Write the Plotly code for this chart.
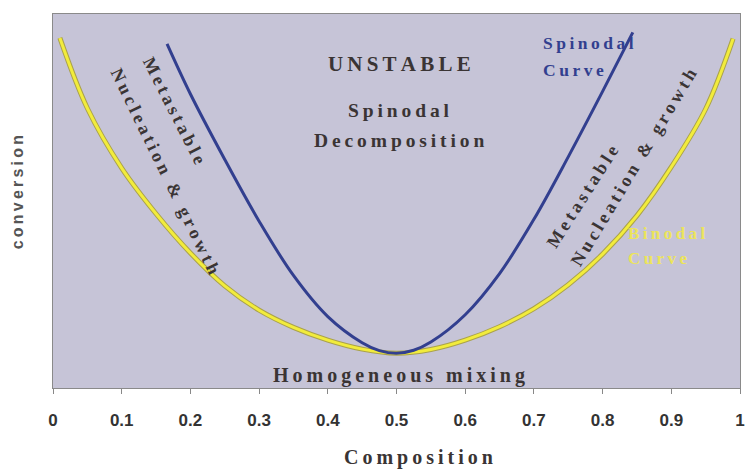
import plotly.graph_objects as go

# ---- data ----
binodal_x = [0.010, 0.05, 0.10, 0.15, 0.20, 0.25, 0.30, 0.35, 0.40, 0.45, 0.50,
             0.55, 0.60, 0.65, 0.70, 0.75, 0.80, 0.85, 0.90, 0.95, 0.990]
binodal_y = [0.936, 0.748, 0.588, 0.466, 0.361, 0.273, 0.208, 0.162, 0.128, 0.104, 0.093,
             0.103, 0.128, 0.164, 0.212, 0.276, 0.358, 0.461, 0.591, 0.746, 0.934]

spinodal_x = [0.166, 0.20, 0.25, 0.30, 0.35, 0.40, 0.45, 0.475, 0.50, 0.525, 0.55, 0.60,
              0.65, 0.70, 0.75, 0.80, 0.844]
spinodal_y = [0.920, 0.786, 0.611, 0.446, 0.301, 0.191, 0.121, 0.100, 0.093, 0.101, 0.123, 0.196,
              0.306, 0.451, 0.618, 0.793, 0.951]

tick_vals = [0, 0.1, 0.2, 0.3, 0.4, 0.5, 0.6, 0.7, 0.8, 0.9, 1]
tick_text = ["0", "0.1", "0.2", "0.3", "0.4", "0.5", "0.6", "0.7", "0.8", "0.9", "1"]

x_title = "Composition"
y_title = "conversion"

TS = "\u2009"  # thin space for letter spacing


def spaced(s):
    return TS.join(list(s))


SERIF = "Liberation Serif"
SANS = "Liberation Sans"
TXT = "#3a3434"
BLUE = "#323f8f"
YEL = "#f2ec3c"

fig = go.Figure()
# yellow binodal with olive edge
fig.add_trace(go.Scatter(x=binodal_x, y=binodal_y, mode="lines",
                         line=dict(color="#aaa24a", width=5, shape="spline", smoothing=1),
                         hoverinfo="skip", showlegend=False))
fig.add_trace(go.Scatter(x=binodal_x, y=binodal_y, mode="lines",
                         line=dict(color=YEL, width=3, shape="spline", smoothing=1),
                         showlegend=False))
fig.add_trace(go.Scatter(x=spinodal_x, y=spinodal_y, mode="lines",
                         line=dict(color=BLUE, width=3, shape="spline", smoothing=1),
                         showlegend=False))

W, H = 751, 469
L, R, T, B = 53, 6, 14, 81


def px2x(px):
    return (px - L) / (W - L - R)


def py2y(py):
    return (H - B - py) / (H - T - B)


anns = []


def ann(text, px, py, size, color=TXT, angle=0, font=SERIF, xanchor="center"):
    anns.append(dict(text=text, x=px2x(px), y=py2y(py), xref="paper", yref="paper",
                     showarrow=False, textangle=angle, xanchor=xanchor, yanchor="middle",
                     font=dict(family=font, size=size, color=color)))


ann("<b>" + spaced("UNSTABLE") + "</b>", 402, 64, 21)
ann("<b>" + spaced("Spinodal") + "</b>", 402, 110, 19.5)
ann("<b>" + spaced("Decomposition") + "</b>", 402, 140, 19.5)
ann("<b>" + spaced("Homogeneous mixing") + "</b>", 402, 375, 20)

ann("<b>" + spaced("Metastable") + "</b>", 175, 110, 18, angle=63)
ann("<b>" + spaced("Nucleation & growth") + "</b>", 166, 171, 18, angle=64)
ann("<b>" + spaced("Metastable") + "</b>", 586, 197, 18, angle=-57.5)
ann("<b>" + spaced("Nucleation & growth") + "</b>", 638, 167, 18, angle=-59)

ann("<b>" + spaced("Spinodal") + "</b>", 545, 43, 17.5, color=BLUE, xanchor="left")
ann("<b>" + spaced("Curve") + "</b>", 545, 70, 17.5, color=BLUE, xanchor="left")
ann("<b>" + spaced("Binodal") + "</b>", 630, 233, 17, color="#ece45a", xanchor="left")
ann("<b>" + spaced("Curve") + "</b>", 630, 258, 17, color="#ece45a", xanchor="left")

# axis titles
ann("<b>" + spaced(x_title) + "</b>", 421, 457, 20)
ann("<b>" + spaced(y_title) + "</b>", 17, 192, 16, color="#555555", angle=-90, font=SANS)

fig.update_layout(
    width=W, height=H,
    margin=dict(l=L, r=R, t=T, b=B),
    paper_bgcolor="white",
    plot_bgcolor="#c6c4d7",
    annotations=anns,
    showlegend=False,
)
fig.update_xaxes(range=[0, 1], tickvals=tick_vals,
                 ticktext=["<b>" + t + "</b>" for t in tick_text],
                 ticks="outside", ticklen=5, tickcolor="#888888",
                 ticklabelstandoff=12,
                 showline=True, linecolor="#8a8a8a", linewidth=1, mirror=True,
                 showgrid=False, zeroline=False,
                 tickfont=dict(family="Liberation Sans Narrow, Liberation Sans", size=17,
                               color="#333333"))
fig.update_yaxes(range=[0, 1], showticklabels=False, ticks="",
                 showline=True, linecolor="#8a8a8a", linewidth=1, mirror=True,
                 showgrid=False, zeroline=False)

fig.write_html("out.html", config={"displayModeBar": False},
               post_script="document.body.style.margin='0';document.body.style.padding='0';")
